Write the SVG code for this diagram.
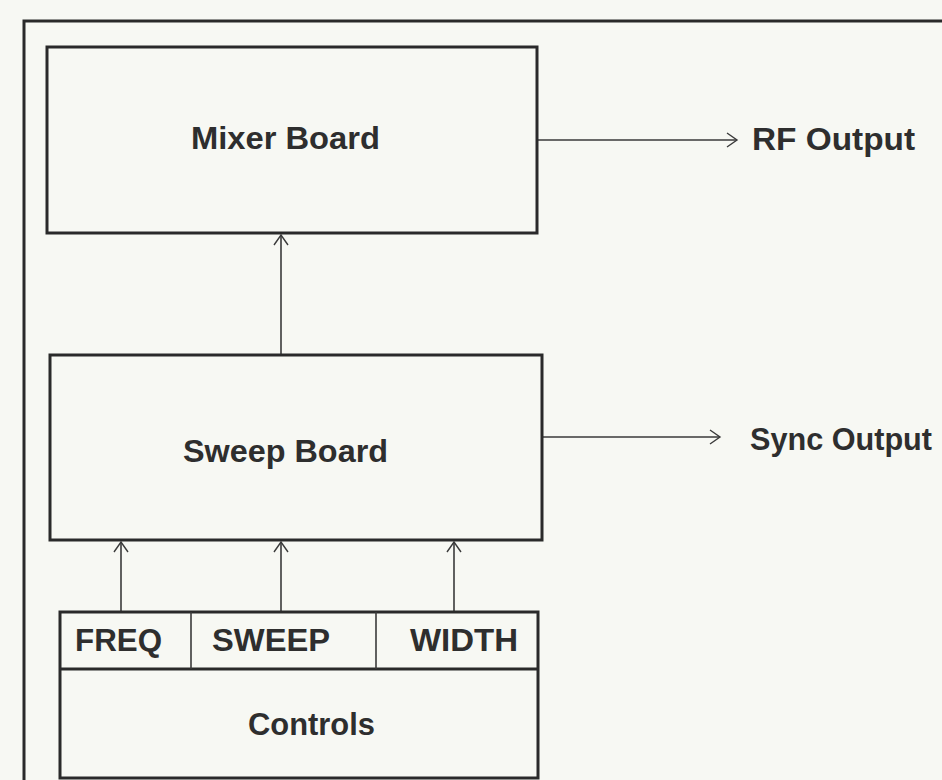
<svg xmlns="http://www.w3.org/2000/svg" width="942" height="780" viewBox="0 0 942 780">
<style>
.box{fill:none;stroke:#2a2a2a;stroke-width:3}
.frame{fill:none;stroke:#2a2a2a;stroke-width:3}
.conn{fill:none;stroke:#3a3a3a;stroke-width:1.6}
.lbl{font-family:"Liberation Sans",Arial,sans-serif;font-weight:bold;fill:#2e2e2e;font-size:31px}
.hdr{font-family:"Liberation Sans",Arial,sans-serif;font-weight:bold;fill:#2e2e2e;font-size:31px}
</style>
<defs>
<marker id="arr" markerWidth="14" markerHeight="16" refX="12" refY="8" orient="auto" markerUnits="userSpaceOnUse">
<path d="M2,1 L12,8 L2,15" fill="none" stroke="#3a3a3a" stroke-width="1.4"/>
</marker>
</defs>
<rect width="942" height="780" fill="#f7f8f3"/>
<g id="frame">
<path class="frame" d="M24,780 L24,21 L942,21"/>
</g>
<g id="connectors">
<line class="conn" x1="537" y1="140" x2="737" y2="140" marker-end="url(#arr)"/>
<line class="conn" x1="542" y1="437" x2="720" y2="437" marker-end="url(#arr)"/>
<line class="conn" x1="281" y1="355" x2="281" y2="235" marker-end="url(#arr)"/>
<line class="conn" x1="121" y1="612" x2="121" y2="542" marker-end="url(#arr)"/>
<line class="conn" x1="281" y1="612" x2="281" y2="542" marker-end="url(#arr)"/>
<line class="conn" x1="454" y1="612" x2="454" y2="542" marker-end="url(#arr)"/>
</g>
<g id="mixer">
<rect class="box" x="47" y="47" width="490" height="186"/>
<text class="lbl" x="191" y="149" textLength="189" lengthAdjust="spacingAndGlyphs">Mixer Board</text>
</g>
<g id="rf-output">
<text class="lbl" x="752" y="150" textLength="163" lengthAdjust="spacingAndGlyphs">RF Output</text>
</g>
<g id="sweep">
<rect class="box" x="50" y="355" width="492" height="185"/>
<text class="lbl" x="183" y="462" textLength="205" lengthAdjust="spacingAndGlyphs">Sweep Board</text>
</g>
<g id="sync-output">
<text class="lbl" x="750" y="450" textLength="182" lengthAdjust="spacingAndGlyphs">Sync Output</text>
</g>
<g id="controls">
<rect class="box" x="60" y="612" width="478" height="166"/>
<line class="box" x1="60" y1="669" x2="538" y2="669"/>
<line class="conn" x1="191" y1="612" x2="191" y2="669"/>
<line class="conn" x1="376" y1="612" x2="376" y2="669"/>
<text class="hdr" x="75" y="651" textLength="87" lengthAdjust="spacingAndGlyphs">FREQ</text>
<text class="hdr" x="212" y="651" textLength="118" lengthAdjust="spacingAndGlyphs">SWEEP</text>
<text class="hdr" x="410" y="651" textLength="108" lengthAdjust="spacingAndGlyphs">WIDTH</text>
<text class="lbl" x="248" y="735" textLength="127" lengthAdjust="spacingAndGlyphs">Controls</text>
</g>
</svg>
